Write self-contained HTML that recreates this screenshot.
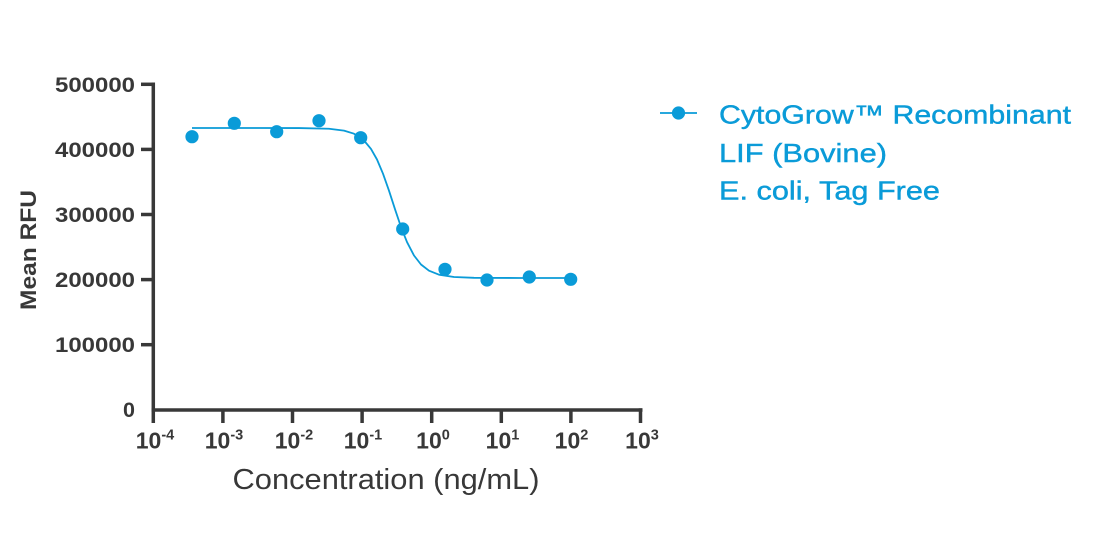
<!DOCTYPE html>
<html>
<head>
<meta charset="utf-8">
<style>
html,body{margin:0;padding:0;background:#fff;}
svg{display:block;}
</style>
</head>
<body>
<svg width="1104" height="534" viewBox="0 0 1104 534" xmlns="http://www.w3.org/2000/svg">
  <rect width="1104" height="534" fill="#fff"/>
  <!-- axes -->
  <g stroke="#383838" stroke-width="3.5" fill="none" stroke-linecap="butt">
    <line x1="153.3" y1="82.5" x2="153.3" y2="423"/>
    <line x1="151.5" y1="410" x2="642.5" y2="410"/>
    <!-- y ticks -->
    <line x1="141" y1="84.3" x2="153" y2="84.3"/>
    <line x1="141" y1="149.4" x2="153" y2="149.4"/>
    <line x1="141" y1="214.5" x2="153" y2="214.5"/>
    <line x1="141" y1="279.6" x2="153" y2="279.6"/>
    <line x1="141" y1="344.7" x2="153" y2="344.7"/>
    <!-- x ticks -->
    <line x1="222.9" y1="410" x2="222.9" y2="423"/>
    <line x1="292.5" y1="410" x2="292.5" y2="423"/>
    <line x1="362.1" y1="410" x2="362.1" y2="423"/>
    <line x1="431.7" y1="410" x2="431.7" y2="423"/>
    <line x1="501.3" y1="410" x2="501.3" y2="423"/>
    <line x1="570.9" y1="410" x2="570.9" y2="423"/>
    <line x1="640.5" y1="408.3" x2="640.5" y2="423"/>
  </g>
  <!-- y tick labels -->
  <g font-family="Liberation Sans, sans-serif" font-weight="bold" font-size="21.5" fill="#383838" text-anchor="end">
    <text x="135" y="92" textLength="80" lengthAdjust="spacingAndGlyphs">500000</text>
    <text x="135" y="157" textLength="80" lengthAdjust="spacingAndGlyphs">400000</text>
    <text x="135" y="222" textLength="80" lengthAdjust="spacingAndGlyphs">300000</text>
    <text x="135" y="287" textLength="80" lengthAdjust="spacingAndGlyphs">200000</text>
    <text x="135" y="352" textLength="80" lengthAdjust="spacingAndGlyphs">100000</text>
    <text x="135" y="417">0</text>
  </g>
  <!-- y axis title -->
  <text transform="translate(36,250) rotate(-90)" font-family="Liberation Sans, sans-serif" font-weight="bold" font-size="22" fill="#383838" text-anchor="middle" textLength="120" lengthAdjust="spacingAndGlyphs">Mean RFU</text>
  <!-- x tick labels -->
  <g font-family="Liberation Sans, sans-serif" font-weight="bold" font-size="23" fill="#383838" text-anchor="middle">
    <text x="155" y="448.5">10<tspan font-size="14.5" dy="-9">-4</tspan></text>
    <text x="224" y="448.5">10<tspan font-size="14.5" dy="-9">-3</tspan></text>
    <text x="294" y="448.5">10<tspan font-size="14.5" dy="-9">-2</tspan></text>
    <text x="363" y="448.5">10<tspan font-size="14.5" dy="-9">-1</tspan></text>
    <text x="433" y="448.5">10<tspan font-size="14.5" dy="-9">0</tspan></text>
    <text x="502.5" y="448.5">10<tspan font-size="14.5" dy="-9">1</tspan></text>
    <text x="571.5" y="448.5">10<tspan font-size="14.5" dy="-9">2</tspan></text>
    <text x="642" y="448.5">10<tspan font-size="14.5" dy="-9">3</tspan></text>
  </g>
  <!-- x axis title -->
  <text x="386" y="489" font-family="Liberation Sans, sans-serif" font-size="29" fill="#383838" text-anchor="middle" textLength="307" lengthAdjust="spacingAndGlyphs">Concentration (ng/mL)</text>
  <!-- fitted curve -->
  <polyline fill="none" stroke="#0a9bd8" stroke-width="1.8" stroke-linejoin="round"
    points="192,128 260,128 299,128.06 329,128.75 344,130.6 354,133.7 364,140.5 371,148.9 377,159.5 383,173.7 389,190.7 395,209.2 401,227 407,242.1 414,255.5 421,264.5 429,270.7 439,274.7 454,277 474,277.8 520,278 571,278"/>
  <!-- data points -->
  <g fill="#0a9bd8">
    <circle cx="192" cy="136.7" r="6.6"/>
    <circle cx="234.3" cy="123.3" r="6.6"/>
    <circle cx="276.7" cy="131.7" r="6.6"/>
    <circle cx="319" cy="120.7" r="6.6"/>
    <circle cx="360.7" cy="137.7" r="6.6"/>
    <circle cx="402.7" cy="229" r="6.6"/>
    <circle cx="445" cy="269.3" r="6.6"/>
    <circle cx="487" cy="280" r="6.6"/>
    <circle cx="529.3" cy="277" r="6.6"/>
    <circle cx="570.7" cy="279.3" r="6.6"/>
  </g>
  <!-- legend -->
  <line x1="660" y1="113" x2="697" y2="113" stroke="#0a9bd8" stroke-width="1.8"/>
  <circle cx="678.5" cy="113" r="6.6" fill="#0a9bd8"/>
  <g font-family="Liberation Sans, sans-serif" font-size="26" fill="#0a9bd8" stroke="#0a9bd8" stroke-width="0.4">
    <text x="719" y="123.5" textLength="352" lengthAdjust="spacingAndGlyphs">CytoGrow™ Recombinant</text>
    <text x="719" y="162" textLength="168" lengthAdjust="spacingAndGlyphs">LIF (Bovine)</text>
    <text x="719" y="199.5" textLength="221" lengthAdjust="spacingAndGlyphs">E. coli, Tag Free</text>
  </g>
</svg>
</body>
</html>
